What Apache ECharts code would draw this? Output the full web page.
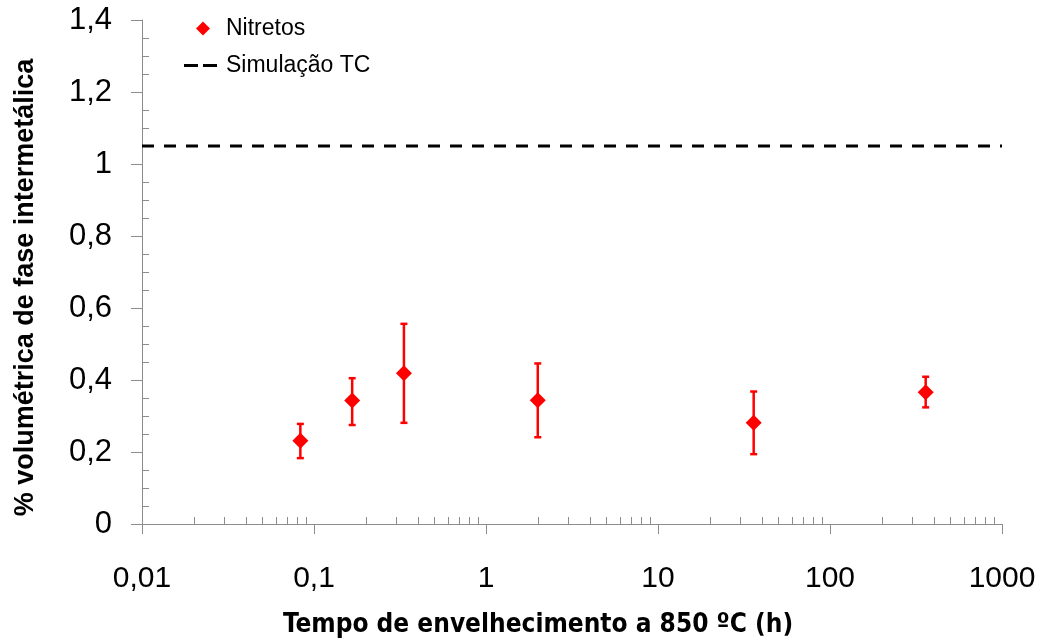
<!DOCTYPE html>
<html>
<head>
<meta charset="utf-8">
<script src="https://cdn.jsdelivr.net/npm/echarts@6/dist/echarts.min.js"></script>
<style>
  html, body { margin: 0; background: #fff; }
  #chart { width: 1041px; height: 640px; }
</style>
</head>
<body>
<div id="chart"></div>
<script>
// tempo de envelhecimento (h) e % volumétrica de nitretos
const tempos = [0.0833, 0.1667, 0.3333, 2, 36, 360];
const nitretos = [0.231, 0.343, 0.419, 0.344, 0.281, 0.366];
const erroMin = [0.183, 0.275, 0.281, 0.241, 0.194, 0.324];
const erroMax = [0.278, 0.405, 0.556, 0.446, 0.368, 0.409];
// simulação Thermo-Calc (linha tracejada)
const simulacaoTC = 1.05;
// eixos
const xMin = 0.01, xMax = 1000;
const yMin = 0, yMax = 1.4, yStep = 0.2;
const decadas = [0.01, 0.1, 1, 10, 100];
const passosMenores = [2, 3, 4, 5, 6, 7, 8, 9];
const yMenor = 0.05;

const cinza = '#8c8c8c';
const fonte = "'Liberation Sans', Arial, sans-serif";
const fonteEstreita = "'Liberation Sans Narrow', 'Arial Narrow', 'DejaVu Sans Condensed', sans-serif";

const virgula = v => String(Number(v.toPrecision(6))).replace('.', ',');

let ticksMenoresX = [];
for (let i = 0; i < decadas.length; i++) {
  for (let j = 0; j < passosMenores.length; j++) {
    ticksMenoresX.push([Number((decadas[i] * passosMenores[j]).toPrecision(6)), 0]);
  }
}
let ticksMenoresY = [];
const nMenores = Math.round((yMax - yMin) / yMenor);
for (let k = 1; k < nMenores; k++) {
  if (k % 4 != 0) ticksMenoresY.push([xMin, Number((yMin + k * yMenor).toFixed(2))]);
}

let pontos = [];
let barras = [];
for (let i = 0; i < tempos.length; i++) {
  pontos.push([tempos[i], nitretos[i]]);
  barras.push([tempos[i], erroMin[i], erroMax[i]]);
}

const chart = echarts.init(document.getElementById('chart'));

const option = {
  backgroundColor: '#fff',
  animation: false,
  grid: { left: 142, right: 39, top: 20, bottom: 116, outerBoundsMode: 'none', containLabel: false },
  legend: [
    {
      data: ['Nitretos'],
      left: 191, top: 12,
      itemWidth: 14, itemHeight: 14,
      textStyle: { fontSize: 23, fontFamily: fonte, color: '#000', padding: [0, 0, 0, 11] }
    },
    {
      // ícone "- -" desenhado como caminho
      data: [{ name: 'Simulação TC', icon: 'path://M0,0h14v3h-14z M19,0h14v3h-14z' }],
      left: 179, top: 49,
      itemWidth: 33, itemHeight: 3,
      itemStyle: { color: '#000' },
      textStyle: { fontSize: 23, fontFamily: fonte, color: '#000', padding: [0, 0, 0, 4] }
    }
  ],
  xAxis: [
    {
      type: 'log', logBase: 10, min: xMin, max: xMax,
      name: 'Tempo de envelhecimento a 850 ºC (h)',
      nameLocation: 'middle', nameGap: 88,
      nameTextStyle: { fontSize: 26, fontWeight: 'bold', fontFamily: fonteEstreita, color: '#000', padding: [0, 68, 0, 0] },
      axisLine: { lineStyle: { color: cinza, width: 1 } },
      axisTick: { show: true, length: 10, lineStyle: { color: cinza } },
      axisLabel: { margin: 40, fontSize: 30, fontFamily: fonte, color: '#000', formatter: virgula },
      splitLine: { show: false },
      minorTick: { show: false }
    }
  ],
  yAxis: [
    {
      type: 'value', min: yMin, max: yMax, interval: yStep,
      name: '% volumétrica de fase intermetálica',
      nameLocation: 'middle', nameGap: 103, nameRotate: 90,
      nameTextStyle: { fontSize: 27, fontWeight: 'bold', fontFamily: fonte, color: '#000', padding: [0, 31, 0, 0] },
      axisLine: { show: true, lineStyle: { color: cinza, width: 1 } },
      axisTick: { show: true, length: 11, lineStyle: { color: cinza } },
      axisLabel: { margin: 30, fontSize: 31, fontFamily: fonte, color: '#000', formatter: virgula },
      splitLine: { show: false }
    }
  ],
  series: [
    {
      name: 'Simulação TC',
      type: 'line',
      data: [[xMin, simulacaoTC], [xMax, simulacaoTC]],
      symbol: 'none',
      lineStyle: { color: '#000', width: 3, type: [12, 10] },
      itemStyle: { color: '#000' },
      silent: true
    },
    {
      name: 'ticksMenoresX',
      type: 'custom',
      data: ticksMenoresX,
      silent: true,
      renderItem: function (params, api) {
        const p = api.coord([api.value(0), api.value(1)]);
        const x = Math.round(p[0]) + 0.5;
        return {
          type: 'line',
          shape: { x1: x, y1: p[1], x2: x, y2: p[1] - 7 },
          style: { stroke: cinza, lineWidth: 1 }
        };
      }
    },
    {
      name: 'ticksMenoresY',
      type: 'custom',
      data: ticksMenoresY,
      silent: true,
      renderItem: function (params, api) {
        const p = api.coord([api.value(0), api.value(1)]);
        const y = Math.round(p[1]) + 0.5;
        return {
          type: 'line',
          shape: { x1: p[0], y1: y, x2: p[0] + 7, y2: y },
          style: { stroke: cinza, lineWidth: 1 }
        };
      }
    },
    {
      name: 'erro',
      type: 'custom',
      data: barras,
      silent: true,
      z: 3,
      renderItem: function (params, api) {
        const x = api.value(0);
        const lo = api.coord([x, api.value(1)]);
        const hi = api.coord([x, api.value(2)]);
        const w = 3.5;
        const st = { stroke: '#ff0000', lineWidth: 2.5 };
        return {
          type: 'group',
          children: [
            { type: 'line', shape: { x1: lo[0], y1: lo[1], x2: hi[0], y2: hi[1] }, style: st },
            { type: 'line', shape: { x1: lo[0] - w, y1: lo[1], x2: lo[0] + w, y2: lo[1] }, style: st },
            { type: 'line', shape: { x1: hi[0] - w, y1: hi[1], x2: hi[0] + w, y2: hi[1] }, style: st }
          ]
        };
      }
    },
    {
      name: 'Nitretos',
      type: 'scatter',
      data: pontos,
      symbol: 'diamond',
      symbolSize: 16,
      itemStyle: { color: '#ff0000', opacity: 1 },
      z: 4
    }
  ]
};

chart.setOption(option);
</script>
</body>
</html>
